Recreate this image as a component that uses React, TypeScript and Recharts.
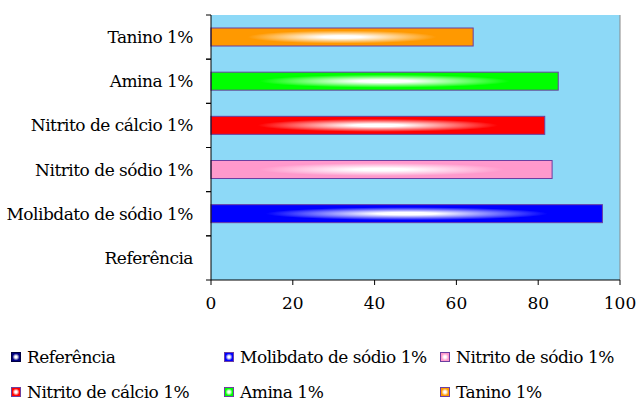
import React from "react"
import { Bar, BarChart, CartesianGrid, Cell, ReferenceLine, XAxis, YAxis } from "recharts"

// Categorias de cima para baixo, como aparecem no eixo
const categorias = [
	"Tanino 1%",
	"Amina 1%",
	"Nitrito de cálcio 1%",
	"Nitrito de sódio 1%",
	"Molibdato de sódio 1%",
	"Referência",
]
const eficiencia = [64.1, 84.9, 81.6, 83.4, 95.7, 0]
const cores = ["#FF9900", "#00FF00", "#FF0000", "#FF99CC", "#0000FF", "#000080"]
const xTicks = [0, 20, 40, 60, 80, 100]

// Ordem da legenda (3 colunas x 2 linhas)
const legendaOrdem = [5, 4, 3, 2, 1, 0]

const data = categorias.map((nome, i) => ({ nome, valor: eficiencia[i] }))

const FONT = "DejaVu Serif"
const FS = 17
const LS = -0.5
const FUNDO = "#8DD9F7"
const CONTORNO = "#6B3FA0"

function CategoryTick(props: any) {
	const { x, y, payload } = props
	const half = payload?.offset ?? 22
	return (
		<g>
			<line x1={x - 5} x2={x} y1={y - half} y2={y - half} stroke="#000" />
			<line x1={x - 5} x2={x} y1={y + half} y2={y + half} stroke="#000" />
			<text
				x={x - 18}
				y={y}
				dy="0.35em"
				textAnchor="end"
				fill="#000"
				fontSize={FS}
				style={{ fontFamily: FONT, letterSpacing: LS }}
			>
				{payload.value}
			</text>
		</g>
	)
}

// barra com brilho central; valor zero não desenha nada
function BarraBrilho(props: any) {
	const { x, y, width, height, index } = props
	if (!width || width <= 0) return null
	return (
		<rect
			x={x}
			y={y}
			width={width}
			height={height}
			fill={`url(#brilho-${index})`}
			stroke={CONTORNO}
			strokeWidth={1}
		/>
	)
}

function Gradientes() {
	return (
		<defs>
			{cores.map((c, i) => (
				<radialGradient key={i} id={`brilho-${i}`} cx="0.5" cy="0.5" r="0.5">
					<stop offset="0" stopColor="#FFFFFF" />
					<stop offset="0.15" stopColor="#FFFFFF" />
					<stop offset="0.72" stopColor={c} />
					<stop offset="1" stopColor={c} />
				</radialGradient>
			))}
		</defs>
	)
}

function Legenda() {
	const colunas = [11, 224, 440]
	const linhas = [357, 392]
	return (
		<>
			{legendaOrdem.map((idx, k) => {
				const left = colunas[k % 3]
				const top = linhas[Math.floor(k / 3)]
				return (
					<div
						key={idx}
						style={{
							position: "absolute",
							left,
							top: top - 12,
							height: 24,
							display: "flex",
							alignItems: "center",
							fontFamily: FONT,
							fontSize: FS,
							letterSpacing: LS,
							color: "#000",
							whiteSpace: "nowrap",
						}}
					>
						<svg width={10} height={10} style={{ marginRight: 6 }}>
							<defs>
								<radialGradient id={`leg-${idx}`} cx="0.5" cy="0.5" r="0.5">
									<stop offset="0" stopColor="#FFFFFF" />
									<stop offset="0.25" stopColor="#FFFFFF" />
									<stop offset="0.8" stopColor={cores[idx]} />
									<stop offset="1" stopColor={cores[idx]} />
								</radialGradient>
							</defs>
							<rect
								x={0.5}
								y={0.5}
								width={9}
								height={9}
								fill={`url(#leg-${idx})`}
								stroke={idx === 5 ? "#000040" : CONTORNO}
							/>
						</svg>
						{categorias[idx]}
					</div>
				)
			})}
		</>
	)
}

export default function App() {
	return (
		<div style={{ position: "absolute", left: 0, top: 0, width: 638, height: 403, background: "#fff" }}>
			<BarChart
				width={638}
				height={320}
				data={data}
				layout="vertical"
				margin={{ top: 15, right: 18, left: 0, bottom: 0 }}
			>
				<Gradientes />
				<CartesianGrid horizontal={false} vertical={false} fill={FUNDO} fillOpacity={1} stroke="none" />
				<XAxis
					xAxisId="topo"
					orientation="top"
					type="number"
					domain={[0, 100]}
					height={0}
					tick={false}
					tickLine={false}
					axisLine={{ stroke: "#888" }}
				/>
				<XAxis
					type="number"
					domain={[0, 100]}
					ticks={xTicks}
					height={40}
					tickSize={5}
					tickMargin={12}
					axisLine={{ stroke: "#000" }}
					tickLine={{ stroke: "#000" }}
					tick={{ fill: "#000", fontSize: FS, style: { fontFamily: FONT } }}
				/>
				<YAxis
					type="category"
					dataKey="nome"
					width={211}
					tickSize={0}
					tickMargin={0}
					tickLine={false}
					axisLine={{ stroke: "#000" }}
					tick={<CategoryTick />}
					interval={0}
				/>
				<Bar
					dataKey="valor"
					barSize={18}
					isAnimationActive={false}
					shape={<BarraBrilho />}
				>
					{data.map((_, i) => (
						<Cell key={i} fill={cores[i]} />
					))}
				</Bar>
				<ReferenceLine x={100} stroke="#888" />
			</BarChart>
			<Legenda />
		</div>
	)
}
